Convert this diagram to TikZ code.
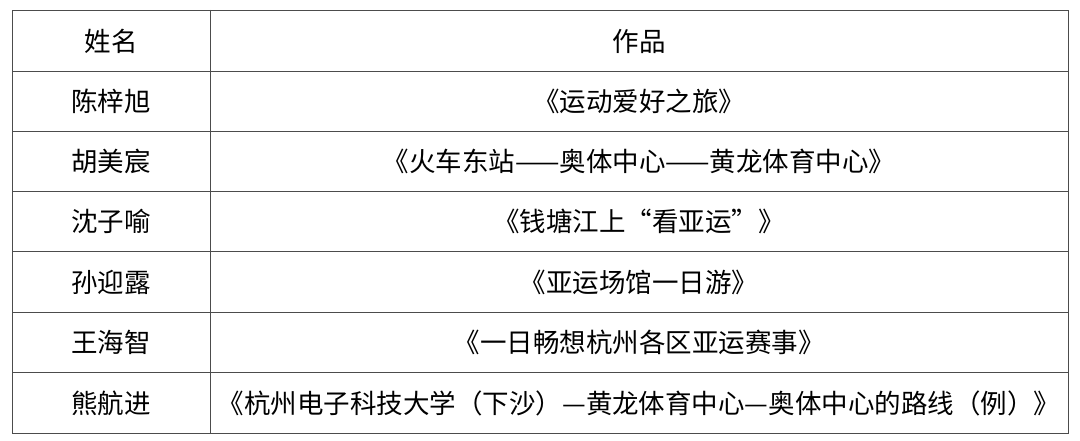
\documentclass[tikz,border=0pt]{standalone}
\usepackage{fontspec}
\newfontfamily\cjk{Noto Sans CJK SC}
\begin{document}
\begin{tikzpicture}[x=1pt,y=-1pt,cell/.style={font=\cjk\fontsize{26.5}{30}\selectfont,inner sep=0pt}]
\useasboundingbox (0,0) rectangle (1080,441);
\fill[white] (0,0) rectangle (1080,441);
\draw[line width=0.8pt,black!70] (12,10) rectangle (1068,433);
\draw[line width=0.8pt,black!70] (210,10) -- (210,433);
\foreach \y in {71,131,191,251,312,372} \draw[line width=0.8pt,black!70] (12,\y) -- (1068,\y);
\node[cell] (h1) at (111,41) {姓名};
\node[cell] (h2) at (639,41) {作品};
\node[cell] (n1) at (111,101) {陈梓旭};
\node[cell] (w1) at (639,101) {《运动爱好之旅》};
\node[cell] (n2) at (111,161) {胡美宸};
\node[cell] (w2) at (639,161) {《火车东站——奥体中心——黄龙体育中心》};
\node[cell] (n3) at (111,221) {沈子喻};
\node[cell] (w3) at (639,221) {《钱塘江上“看亚运”》};
\node[cell] (n4) at (111,282) {孙迎露};
\node[cell] (w4) at (639,282) {《亚运场馆一日游》};
\node[cell] (n5) at (111,342) {王海智};
\node[cell] (w5) at (639,342) {《一日畅想杭州各区亚运赛事》};
\node[cell] (n6) at (111,403) {熊航进};
\node[cell] (w6) at (639,403) {《杭州电子科技大学（下沙）—黄龙体育中心—奥体中心的路线（例）》};
\end{tikzpicture}
\end{document}
